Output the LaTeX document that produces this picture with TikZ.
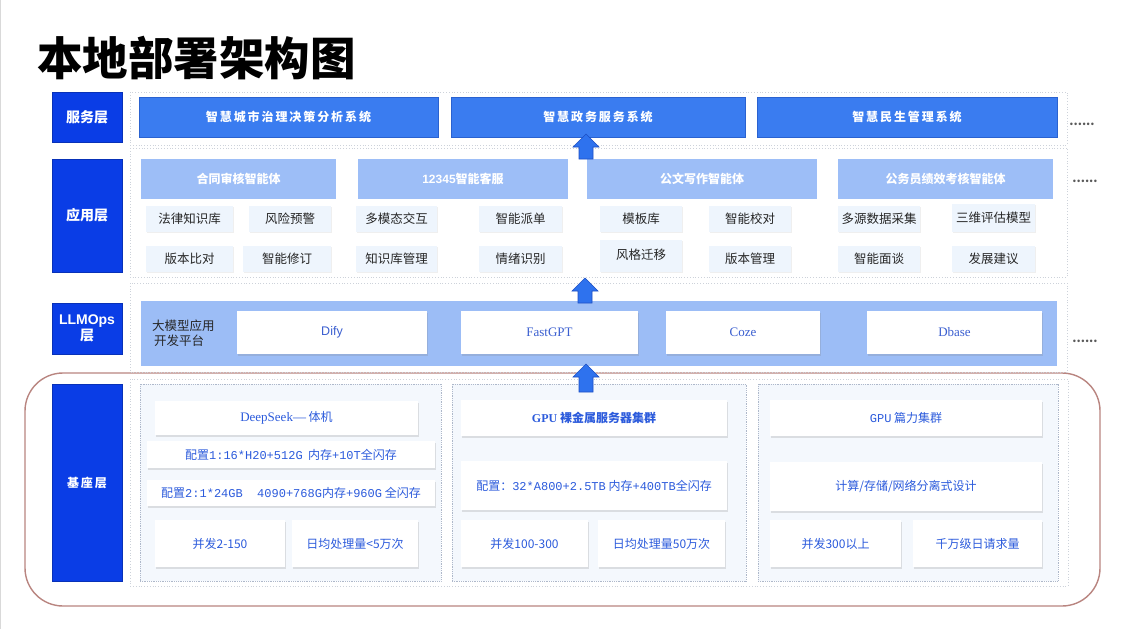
\documentclass[tikz,border=0pt]{standalone}
\usepackage{fontspec}
\setmainfont{Noto Sans CJK SC}
\newfontfamily\lsans{Liberation Sans}
\newfontfamily\lserif{Liberation Serif}
\newfontfamily\lmono{Liberation Mono}
\newfontfamily\spaced[LetterSpace=16]{Noto Sans CJK SC}
\usetikzlibrary{shadows}
\definecolor{labblue}{HTML}{0A3DE6}
\definecolor{svcblue}{HTML}{3A7CF0}
\definecolor{svcbd}{HTML}{2A62D0}
\definecolor{hdrblue}{HTML}{9DBEF7}
\definecolor{bandblue}{HTML}{9CBDF6}
\definecolor{subfill}{HTML}{EEF5FD}
\definecolor{panelfill}{HTML}{F4F8FD}
\definecolor{panelbd}{HTML}{AEB8CA}
\definecolor{dotgray}{HTML}{CDD2DA}
\definecolor{arrblue}{HTML}{2E72EE}
\definecolor{arrbd}{HTML}{1D4FC4}
\definecolor{basered}{HTML}{B98580}
\definecolor{txtblue}{HTML}{2C5BDC}
\definecolor{llmtxt}{HTML}{3B5FD0}
\newcommand\bx[7]{\node[#6, minimum width={(#4)-(#2)}, minimum height={(#5)-(#3)}] (#1) at ({((#2)+(#4))/2},{((#3)+(#5))/2}) {#7};}
\newcommand\blockup[5]{% x, tip y, head base y, bottom y, name
  \draw[arrowshape] (#1,#2) -- (#1+13,#3) -- (#1+7,#3) -- (#1+7,#4) -- (#1-7,#4) -- (#1-7,#3) -- (#1-13,#3) -- cycle;}
\tikzset{
  layerlab/.style={fill=labblue, draw=labblue!80!black, line width=0.5pt, text=white, align=center, font=\bfseries\fontsize{14}{17}\selectfont},
  frame/.style={draw=dotgray, dotted, line width=0.8pt},
  svc/.style={fill=svcblue, draw=svcbd, line width=0.5pt, text=white, font=\spaced\bfseries\fontsize{12}{14}\selectfont},
  hdr/.style={fill=hdrblue, text=white, font=\bfseries\fontsize{12}{14}\selectfont},
  sub/.style={fill=subfill, text=black!85, font=\fontsize{12.5}{14}\selectfont, drop shadow={shadow xshift=1pt, shadow yshift=-1pt, opacity=0.12}},
  band/.style={fill=bandblue},
  wbox/.style={fill=white, drop shadow={shadow xshift=1.2pt, shadow yshift=-1.5pt, opacity=0.22}},
  llm/.style={wbox, text=llmtxt, font=\lserif\fontsize{13}{15}\selectfont},
  panel/.style={fill=panelfill, draw=panelbd, densely dotted, line width=0.8pt},
  bitem/.style={wbox, text=txtblue, font=\fontsize{12}{14}\selectfont},
  dots/.style={text=black!65, font=\bfseries\fontsize{12}{14}\selectfont},
  arrowshape/.style={fill=arrblue, draw=arrbd, line width=0.6pt, line join=miter},
}
\begin{document}
\begin{tikzpicture}[x=1pt,y=-1pt, every node/.style={inner sep=0pt, outer sep=0pt}]
\useasboundingbox[fill=white] (0,0) rectangle (1123,629);
\draw[black!15, line width=2pt] (0,0) -- (0,629);

% title
\node[anchor=west, font=\bfseries\fontsize{45.5}{50}\selectfont] (title) at (37,58) {本地部署架构图};

% base outer rounded frame
\draw[basered, line width=1.4pt, rounded corners=38pt] (25,373) rectangle (1100,606);

% dotted frames
\draw[frame] (130,92) rectangle (1067,145);
\draw[frame] (130,148) rectangle (1067,277);
\draw[frame] (130,283) rectangle (1067,372);
\draw[frame] (130,379) rectangle (1068,586);

% layer labels
\bx{L1}{52}{92}{122}{142}{layerlab}{服务层}
\bx{L2}{52}{159}{122}{272}{layerlab}{应用层}
\bx{L3}{52}{303}{122}{354}{layerlab}{\lsans LLMOps\\[-1pt]层}
\bx{L4}{52}{384}{122}{581}{layerlab, font=\spaced\bfseries\fontsize{12}{14}\selectfont}{基座层}

% service layer
\bx{S1}{139}{97}{438}{137}{svc}{智慧城市治理决策分析系统}
\bx{S2}{451}{97}{745}{137}{svc}{智慧政务服务系统}
\bx{S3}{757}{97}{1057}{137}{svc}{智慧民生管理系统}
\node[dots] (d1) at (1082,124) {......};

% application layer headers
\bx{H1}{141}{159}{336}{199}{hdr}{合同审核智能体}
\bx{H2}{358}{159}{568}{199}{hdr}{\lsans\bfseries 12345\rmfamily\bfseries 智能客服}
\bx{H3}{587}{159}{817}{199}{hdr}{公文写作智能体}
\bx{H4}{838}{159}{1053}{199}{hdr}{公务员绩效考核智能体}
\node[dots] (d2) at (1085,181) {......};

% application sub items
\bx{A11}{146}{206}{233}{232}{sub}{法律知识库}
\bx{A12}{249}{206}{331}{232}{sub}{风险预警}
\bx{A13}{146}{246}{233}{272}{sub}{版本比对}
\bx{A14}{243}{246}{331}{272}{sub}{智能修订}
\bx{A21}{356}{206}{437}{232}{sub}{多模态交互}
\bx{A22}{479}{206}{562}{232}{sub}{智能派单}
\bx{A23}{356}{246}{437}{272}{sub}{知识库管理}
\bx{A24}{479}{246}{562}{272}{sub}{情绪识别}
\bx{A31}{600}{206}{682}{232}{sub}{模板库}
\bx{A32}{709}{206}{791}{232}{sub}{智能校对}
\bx{A33}{600}{240}{682}{272}{sub}{\raisebox{4pt}{风格迁移}}
\bx{A34}{709}{246}{791}{272}{sub}{版本管理}
\bx{A41}{838}{206}{920}{232}{sub}{多源数据采集}
\bx{A42}{952}{204}{1035}{232}{sub}{三维评估模型}
\bx{A43}{838}{246}{920}{272}{sub}{智能面谈}
\bx{A44}{952}{246}{1035}{272}{sub}{发展建议}

% LLMOps layer
\bx{B}{141}{301}{1057}{366}{band}{}
\node[align=left, anchor=west, font=\fontsize{12.5}{14.5}\selectfont, text=black!85] (plat) at (152,333) {大模型应用\\\,开发平台};
\bx{P1}{237}{311}{427}{354}{llm, font=\lsans\fontsize{12.5}{15}\selectfont}{Dify}
\bx{P2}{461}{311}{638}{354}{llm}{FastGPT}
\bx{P3}{666}{311}{820}{354}{llm}{Coze}
\bx{P4}{867}{311}{1042}{354}{llm}{\raisebox{1.5pt}{Dbase}}
\node[dots] (d3) at (1085,341) {......};

% base layer panels
\bx{G1}{140}{384}{441}{581}{panel}{}
\bx{G2}{452}{384}{746}{581}{panel}{}
\bx{G3}{758}{384}{1058}{581}{panel}{}

\bx{K11}{155}{401}{418}{435}{bitem}{{\lserif\fontsize{13}{15}\selectfont DeepSeek—} 体机}
\bx{K12}{147}{441}{435}{468}{bitem}{配置{\lmono 1:16*H20+512G} \ 内存{\lmono +10T}全闪存}
\bx{K13}{147}{480}{435}{506}{bitem}{配置{\lmono 2:1*24GB \ 4090+768G}内存{\lmono +960G} 全闪存}
\bx{K14}{155}{520}{285}{567}{bitem}{并发2-150}
\bx{K15}{292}{520}{418}{567}{bitem}{日均处理量<5万次}

\bx{K21}{461}{400}{727}{436}{bitem, font=\bfseries\fontsize{12}{14}\selectfont}{{\lserif\bfseries GPU} 裸金属服务器集群}
\bx{K22}{461}{461}{727}{510}{bitem}{配置：{\lmono 32*A800+2.5TB} 内存{\lmono +400TB}全闪存}
\bx{K23}{461}{520}{588}{567}{bitem}{并发100-300}
\bx{K24}{598}{520}{725}{567}{bitem}{日均处理量50万次}

\bx{K31}{770}{400}{1042}{436}{bitem}{{\lmono GPU} 篇力集群}
\bx{K32}{770}{462}{1042}{511}{bitem}{计算/存储/网络分离式设计}
\bx{K33}{770}{520}{901}{567}{bitem}{并发300以上}
\bx{K34}{913}{520}{1042}{567}{bitem}{千万级日请求量}

% layer arrows
\blockup{586}{134}{147}{159}{ar1}
\blockup{585}{278}{291}{303}{ar2}
\blockup{586}{364}{377}{392}{ar3}
\end{tikzpicture}
\end{document}
